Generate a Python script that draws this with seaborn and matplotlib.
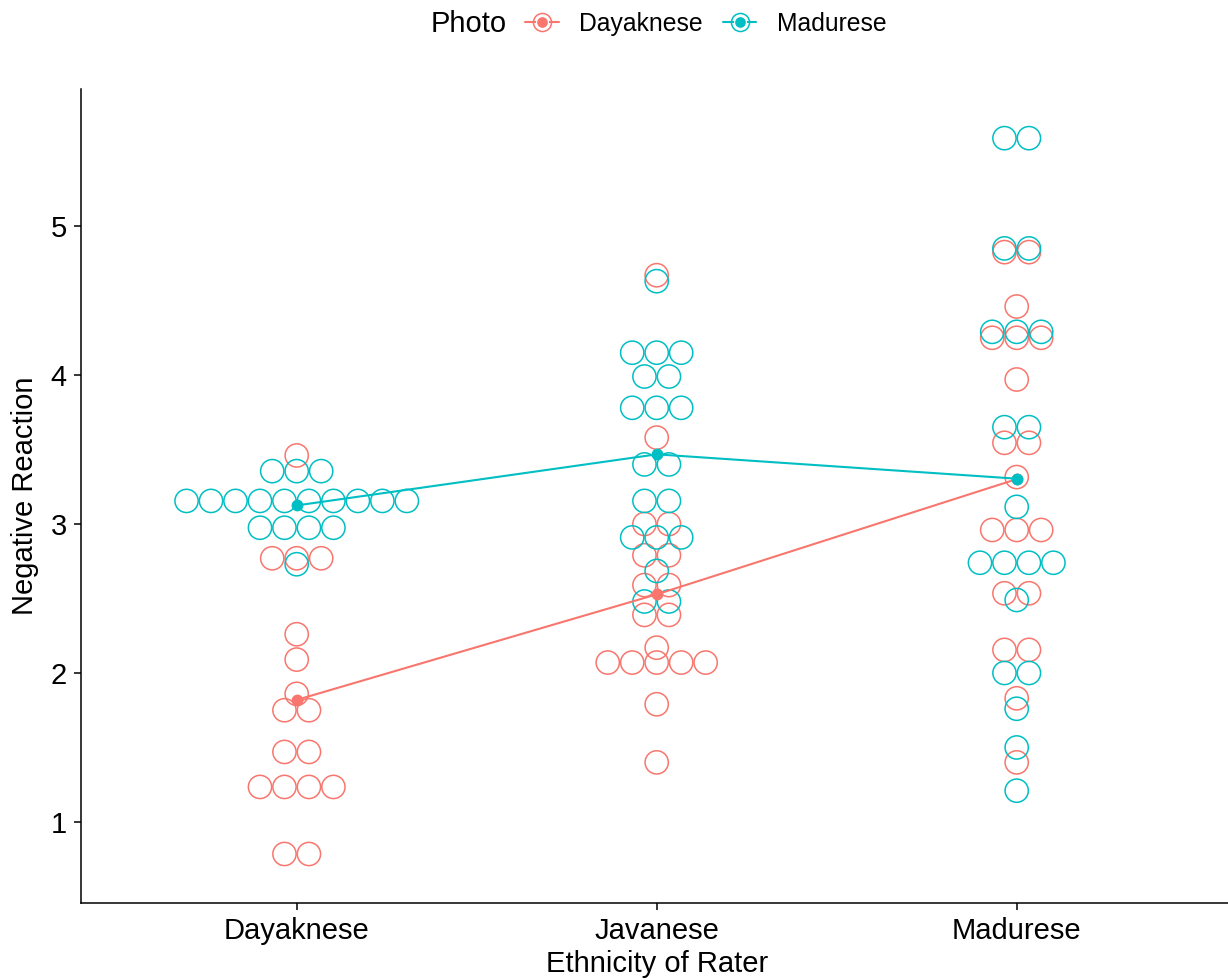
import numpy as np
import pandas as pd
import matplotlib
matplotlib.use("Agg")
import matplotlib.pyplot as plt
from matplotlib.lines import Line2D
import seaborn as sns
from collections import Counter

# ---- data ----
raters = ["Dayaknese", "Javanese", "Madurese"]
photos = ["Dayaknese", "Madurese"]
palette = {"Dayaknese": "#F8766D", "Madurese": "#00BFC4"}

dayak_rater_dayak_photo = [3.46, 2.77, 2.77, 2.77, 2.26, 2.09, 1.86, 1.75, 1.75,
                           1.47, 1.47, 1.235, 1.235, 1.235, 1.235, 0.785, 0.785]
dayak_rater_madur_photo = [3.355, 3.355, 3.355] + [3.155] * 10 + [2.975] * 4 + [2.73]

java_rater_dayak_photo = [4.67, 3.58, 3.0, 3.0, 2.79, 2.79, 2.59, 2.59, 2.39, 2.39,
                          2.17, 2.07, 2.07, 2.07, 2.07, 2.07, 1.79, 1.40]
java_rater_madur_photo = [4.63, 4.15, 4.15, 4.15, 3.99, 3.99, 3.78, 3.78, 3.78,
                          3.40, 3.40, 3.155, 3.155, 2.91, 2.91, 2.91, 2.685, 2.48, 2.48]

madur_rater_dayak_photo = [4.825, 4.825, 4.46, 4.25, 4.25, 4.25, 3.97, 3.545, 3.545,
                           3.315, 2.96, 2.96, 2.96, 2.535, 2.535, 2.155, 2.155, 1.83, 1.40]
madur_rater_madur_photo = [5.59, 5.59, 4.85, 4.85, 4.29, 4.29, 4.29, 3.65, 3.65, 3.115,
                           2.74, 2.74, 2.74, 2.74, 2.49, 2.0, 2.0, 1.76, 1.50, 1.21]

groups = {
    ("Dayaknese", "Dayaknese"): dayak_rater_dayak_photo,
    ("Dayaknese", "Madurese"): dayak_rater_madur_photo,
    ("Javanese", "Dayaknese"): java_rater_dayak_photo,
    ("Javanese", "Madurese"): java_rater_madur_photo,
    ("Madurese", "Dayaknese"): madur_rater_dayak_photo,
    ("Madurese", "Madurese"): madur_rater_madur_photo,
}

rows = []
for (rater, photo), vals in groups.items():
    for v in vals:
        rows.append({"rater": rater, "photo": photo, "value": v,
                     "rater_idx": raters.index(rater)})
df = pd.DataFrame(rows)

# centred horizontal stacking of dots that share a bin
dot_step = 0.068
stack_rows = []
for photo in photos:
    for rater in raters:
        vals = groups[(rater, photo)]
        cnt = Counter(vals)
        for v, n in cnt.items():
            for i in range(n):
                stack_rows.append({"photo": photo, "value": v,
                                   "x": raters.index(rater) + (i - (n - 1) / 2) * dot_step})
dots = pd.DataFrame(stack_rows)

# ---- figure ----
sns.set_theme(style="ticks")
plt.rcParams["font.family"] = ["Liberation Sans", "DejaVu Sans"]
plt.rcParams["text.color"] = "black"
plt.rcParams["axes.labelcolor"] = "black"
plt.rcParams["axes.edgecolor"] = "black"
plt.rcParams["xtick.color"] = "black"
plt.rcParams["ytick.color"] = "black"

fig = plt.figure(figsize=(12.28, 9.8), dpi=100)
ax = fig.add_axes([80.7 / 1228, 1 - 903 / 980, 3.2 * 360 / 1228, (903 - 89) / 980])

sns.scatterplot(data=dots, x="x", y="value", hue="photo", hue_order=photos,
                palette=palette, s=280, linewidth=1.1, legend=False, ax=ax, zorder=2)
coll = ax.collections[-1]
fc = coll.get_facecolors()
coll.set_edgecolors(fc)
coll.set_facecolors("none")

sns.lineplot(data=df, x="rater_idx", y="value", hue="photo", hue_order=photos,
             palette=palette, estimator="mean", errorbar=None, marker="o",
             markersize=8.5, markeredgewidth=0, linewidth=1.5, legend=False,
             ax=ax, zorder=3)

ax.set_xlim(-0.6, 2.6)
ax.set_ylim(0.456, 5.92)
ax.set_xticks(range(len(raters)))
ax.set_xticklabels(raters)
ax.set_yticks([1, 2, 3, 4, 5])
ax.tick_params(axis="both", labelsize=21, length=5, width=1.1, color="black",
               labelcolor="black", pad=5)
ax.set_xlabel("Ethnicity of Rater", fontsize=21, labelpad=4, color="black")
ax.set_ylabel("Negative Reaction", fontsize=21, labelpad=8, color="black")
for side in ["top", "right"]:
    ax.spines[side].set_visible(False)
for side in ["left", "bottom"]:
    ax.spines[side].set_linewidth(1.1)
    ax.spines[side].set_color("black")

# legend on top
fig.text(431 / 1228, 1 - 24 / 980, "Photo", fontsize=21, ha="left", va="center",
         color="black")
handles = []
for p in photos:
    ring = Line2D([], [], color=palette[p], linewidth=1.5, marker="o", markersize=13,
                  markerfacecolor="none", markeredgecolor=palette[p], markeredgewidth=1.1)
    dot = Line2D([], [], linestyle="none", marker="o", markersize=8.5,
                 markerfacecolor=palette[p], markeredgecolor="white", markeredgewidth=0.8)
    handles.append((ring, dot))
leg = fig.legend(handles, photos, loc="center left",
                 bbox_to_anchor=(525 / 1228, 1 - 24 / 980),
                 ncol=2, frameon=False, fontsize=17.8, handlelength=1.36,
                 handletextpad=0.82, columnspacing=0.82, borderpad=0, borderaxespad=0)
for t in leg.get_texts():
    t.set_color("black")

fig.savefig("out.png", dpi=100)
